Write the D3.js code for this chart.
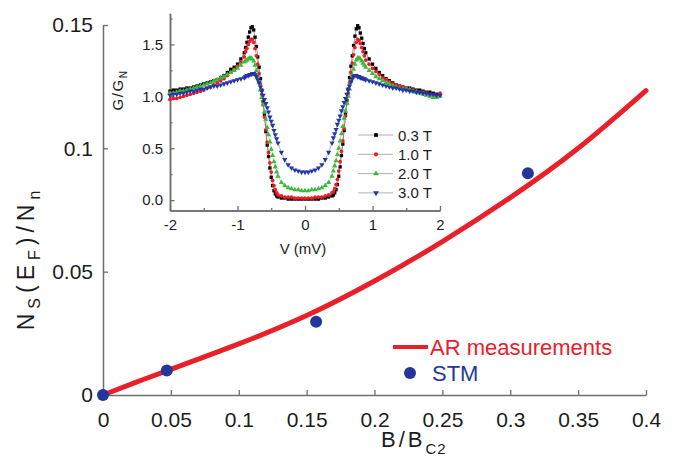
<!DOCTYPE html>
<html>
<head>
<meta charset="utf-8">
<script src="https://cdn.jsdelivr.net/npm/d3@7"></script>
<style>
	body { margin: 0; background: #fff; }
	svg text { font-family: "Liberation Sans", Arial, sans-serif; }
</style>
</head>
<body>
<svg id="chart" width="679" height="472"></svg>
<script>
// ---- main plot data ----
var fieldTicks = [0, 0.05, 0.1, 0.15, 0.2, 0.25, 0.3, 0.35, 0.4];
var fieldTickLabels = ["0", "0.05", "0.1", "0.15", "0.2", "0.25", "0.3", "0.35", "0.4"];
var dosTicks = [0, 0.05, 0.1, 0.15];
var dosTickLabels = ["0", "0.05", "0.1", "0.15"];

// AR measurements (red curve)
var arField = [0, 0.025, 0.05, 0.1, 0.15, 0.2, 0.25, 0.3, 0.35, 0.4];
var arDos = [0, 0.0053, 0.0104, 0.0207, 0.0322, 0.0462, 0.0622, 0.0800, 0.1000, 0.1234];

// STM points
var stmField = [0, 0.047, 0.157, 0.313];
var stmDos = [0, 0.0099, 0.0297, 0.0899];

// ---- inset data ----
var insetVTicks = [-2, -1, 0, 1, 2];
var insetVTickLabels = ["-2", "-1", "0", "1", "2"];
var insetVMinor = [-1.5, -0.5, 0.5, 1.5];
var insetGTicks = [0, 0.5, 1, 1.5];
var insetGTickLabels = ["0.0", "0.5", "1.0", "1.5"];
var insetGMinor = [0.25, 0.75, 1.25, 1.75];
var fieldNames = ["0.3 T", "1.0 T", "2.0 T", "3.0 T"];

var biasV = [
	-2, -1.95, -1.9, -1.85, -1.8, -1.75, -1.7, -1.65, -1.6, -1.55, -1.5, -1.45, -1.4, -1.35, -1.3, -1.25, -1.2, -1.15, -1.1, -1.05, -1, -0.95, -0.9,
	-0.88, -0.86, -0.84, -0.82, -0.8, -0.78, -0.76, -0.74, -0.72, -0.7, -0.68, -0.66, -0.64, -0.62, -0.6, -0.58, -0.56, -0.54, -0.52, -0.5, -0.48, -0.46, -0.44, -0.42,
	-0.4, -0.35, -0.3, -0.25, -0.2, -0.15, -0.1, -0.05, 0, 0.05, 0.1, 0.15, 0.2, 0.25, 0.3, 0.35, 0.4,
	0.42, 0.44, 0.46, 0.48, 0.5, 0.52, 0.54, 0.56, 0.58, 0.6, 0.62, 0.64, 0.66, 0.68, 0.7, 0.72, 0.74, 0.76, 0.78, 0.8, 0.82, 0.84, 0.86, 0.88,
	0.9, 0.95, 1, 1.05, 1.1, 1.15, 1.2, 1.25, 1.3, 1.35, 1.4, 1.45, 1.5, 1.55, 1.6, 1.65, 1.7, 1.75, 1.8, 1.85, 1.9, 1.95, 2
];

var g03 = [
	1.05, 1.06, 1.06, 1.07, 1.07, 1.08, 1.08, 1.09, 1.10, 1.11, 1.12, 1.13, 1.14, 1.15, 1.16, 1.18, 1.20, 1.23, 1.26, 1.28, 1.31, 1.36, 1.42,
	1.47, 1.52, 1.57, 1.62, 1.66, 1.67, 1.64, 1.57, 1.48, 1.38, 1.28, 1.17, 1.06, 0.95, 0.82, 0.66, 0.53, 0.42, 0.31, 0.22, 0.14, 0.09, 0.06, 0.04,
	0.03, 0.02, 0.02, 0.01, 0.01, 0.01, 0.01, 0.01, 0.01, 0.01, 0.01, 0.01, 0.01, 0.02, 0.02, 0.03, 0.04,
	0.05, 0.07, 0.10, 0.15, 0.23, 0.32, 0.43, 0.54, 0.67, 0.83, 0.96, 1.07, 1.18, 1.29, 1.39, 1.49, 1.58, 1.65, 1.68, 1.66, 1.61, 1.56, 1.51, 1.46,
	1.42, 1.36, 1.31, 1.27, 1.23, 1.20, 1.17, 1.15, 1.13, 1.11, 1.10, 1.09, 1.08, 1.08, 1.07, 1.06, 1.06, 1.05, 1.04, 1.04, 1.03, 1.02, 1.02
];

var g10 = [
	0.97, 0.98, 0.98, 0.99, 1.00, 1.01, 1.02, 1.03, 1.04, 1.05, 1.06, 1.08, 1.09, 1.11, 1.13, 1.15, 1.17, 1.20, 1.23, 1.26, 1.29, 1.33, 1.38,
	1.43, 1.46, 1.50, 1.53, 1.55, 1.55, 1.52, 1.46, 1.39, 1.31, 1.22, 1.12, 1.02, 0.92, 0.80, 0.68, 0.56, 0.46, 0.36, 0.27, 0.19, 0.14, 0.10, 0.07,
	0.05, 0.04, 0.03, 0.03, 0.03, 0.02, 0.02, 0.02, 0.02, 0.02, 0.02, 0.03, 0.03, 0.03, 0.04, 0.05, 0.07,
	0.08, 0.11, 0.15, 0.20, 0.28, 0.37, 0.47, 0.57, 0.69, 0.81, 0.93, 1.03, 1.13, 1.23, 1.32, 1.40, 1.47, 1.52, 1.55, 1.54, 1.51, 1.47, 1.43, 1.39,
	1.35, 1.31, 1.27, 1.24, 1.21, 1.18, 1.16, 1.14, 1.12, 1.11, 1.10, 1.09, 1.08, 1.07, 1.06, 1.05, 1.04, 1.04, 1.03, 1.02, 1.01, 1.01, 1.03
];

var g20 = [
	1.03, 1.03, 1.04, 1.05, 1.05, 1.06, 1.07, 1.08, 1.09, 1.10, 1.11, 1.12, 1.13, 1.15, 1.16, 1.18, 1.19, 1.21, 1.23, 1.25, 1.27, 1.30, 1.33,
	1.34, 1.35, 1.36, 1.37, 1.37, 1.36, 1.34, 1.30, 1.25, 1.19, 1.13, 1.06, 0.99, 0.92, 0.85, 0.78, 0.70, 0.63, 0.56, 0.49, 0.43, 0.37, 0.32, 0.27,
	0.23, 0.17, 0.14, 0.12, 0.11, 0.10, 0.10, 0.09, 0.09, 0.09, 0.10, 0.10, 0.11, 0.12, 0.14, 0.17, 0.23,
	0.28, 0.33, 0.38, 0.44, 0.50, 0.57, 0.64, 0.71, 0.79, 0.86, 0.93, 1.00, 1.07, 1.14, 1.20, 1.26, 1.31, 1.35, 1.37, 1.37, 1.36, 1.34, 1.32, 1.30,
	1.28, 1.25, 1.22, 1.19, 1.17, 1.15, 1.13, 1.12, 1.10, 1.09, 1.08, 1.07, 1.07, 1.06, 1.05, 1.04, 1.03, 1.02, 1.01, 1.00, 0.99, 0.99, 1.00
];

var g30 = [
	1.01, 1.02, 1.02, 1.03, 1.03, 1.04, 1.05, 1.05, 1.06, 1.07, 1.07, 1.08, 1.09, 1.10, 1.10, 1.11, 1.12, 1.13, 1.14, 1.15, 1.16, 1.17, 1.18,
	1.19, 1.20, 1.20, 1.21, 1.21, 1.22, 1.22, 1.21, 1.19, 1.16, 1.13, 1.09, 1.05, 1.01, 0.97, 0.93, 0.89, 0.85, 0.80, 0.76, 0.72, 0.67, 0.63, 0.59,
	0.55, 0.46, 0.39, 0.34, 0.31, 0.29, 0.28, 0.27, 0.27, 0.27, 0.28, 0.29, 0.31, 0.34, 0.39, 0.46, 0.55,
	0.60, 0.64, 0.68, 0.73, 0.77, 0.81, 0.86, 0.90, 0.94, 0.98, 1.02, 1.06, 1.10, 1.14, 1.17, 1.19, 1.20, 1.20, 1.19, 1.19, 1.18, 1.18, 1.17, 1.17,
	1.16, 1.15, 1.14, 1.13, 1.12, 1.11, 1.10, 1.09, 1.08, 1.08, 1.07, 1.06, 1.06, 1.05, 1.05, 1.04, 1.04, 1.03, 1.03, 1.02, 1.02, 1.01, 1.01
];

var svg = d3.select("#chart");
var axisColor = "#6e6e6e";
var textColor = "#1c1c1c";
var red = "#e8202a";
var navy = "#24369c";

function styleAxis(g, size) {
	g.attr("font-family", null).attr("font-size", null);
	g.select(".domain").attr("stroke", axisColor).attr("stroke-width", 1.5);
	g.selectAll(".tick line").attr("stroke", axisColor).attr("stroke-width", 1.3);
	g.selectAll(".tick text").attr("fill", textColor).style("font-size", size + "px");
}

// ---- main plot ----
var x = d3.scaleLinear().domain([0, 0.4]).range([103, 646]);
var y = d3.scaleLinear().domain([0, 0.15]).range([395, 25]);

svg.append("g")
	.attr("transform", "translate(0,395)")
	.call(d3.axisBottom(x)
		.tickValues(fieldTicks)
		.tickFormat(function(d, i) { return fieldTickLabels[i]; })
		.tickSize(-5).tickSizeOuter(0).tickPadding(17))
	.call(styleAxis, 21);

svg.append("g")
	.attr("transform", "translate(103,0)")
	.call(d3.axisLeft(y)
		.tickValues(dosTicks)
		.tickFormat(function(d, i) { return dosTickLabels[i]; })
		.tickSize(-5).tickSizeOuter(0).tickPadding(10))
	.call(styleAxis, 21);

// axis titles
var yTitle = svg.append("text")
	.attr("transform", "translate(34,258) rotate(-90)")
	.attr("text-anchor", "middle")
	.attr("fill", textColor)
	.style("font-size", "23px")
	.style("letter-spacing", "5px");
yTitle.append("tspan").text("N");
yTitle.append("tspan").attr("dy", 6).style("font-size", "16px").text("S");
yTitle.append("tspan").attr("dy", -6).text("(E");
yTitle.append("tspan").attr("dy", 6).style("font-size", "16px").text("F");
yTitle.append("tspan").attr("dy", -6).text(")/N");
yTitle.append("tspan").attr("dy", 6).style("font-size", "16px").text("n");

var xTitle = svg.append("text")
	.attr("x", 381).attr("y", 447)
	.attr("fill", textColor)
	.style("font-size", "22px")
	.style("letter-spacing", "3px");
xTitle.append("tspan").text("B/B");
xTitle.append("tspan").attr("dy", 7).style("font-size", "15px").style("letter-spacing", "1px").text("C2");

// AR curve
var arLine = d3.line()
	.x(function(d) { return x(d[0]); })
	.y(function(d) { return y(d[1]); })
	.curve(d3.curveNatural);

svg.append("path")
	.datum(d3.zip(arField, arDos))
	.attr("d", arLine)
	.attr("fill", "none")
	.attr("stroke", red)
	.attr("stroke-width", 5)
	.attr("stroke-linecap", "round");

// STM dots
svg.append("g")
	.selectAll("circle")
	.data(d3.zip(stmField, stmDos))
	.join("circle")
	.attr("cx", function(d) { return x(d[0]); })
	.attr("cy", function(d) { return y(d[1]); })
	.attr("r", 6)
	.attr("fill", navy);

// legend
var legend = svg.append("g");
legend.append("line")
	.attr("x1", 393).attr("x2", 428).attr("y1", 347).attr("y2", 347)
	.attr("stroke", red).attr("stroke-width", 4);
legend.append("text")
	.attr("x", 430).attr("y", 355)
	.attr("fill", red).style("font-size", "22px")
	.text("AR measurements");
legend.append("circle")
	.attr("cx", 410).attr("cy", 373).attr("r", 6)
	.attr("fill", navy);
legend.append("text")
	.attr("x", 432).attr("y", 381)
	.attr("fill", navy).style("font-size", "22px")
	.text("STM");

// ---- inset ----
var ix = d3.scaleLinear().domain([-2, 2]).range([170, 440]);
var iy = d3.scaleLinear().domain([-0.1, 1.8]).range([210.5, 13.3]);

var inset = svg.append("g");

inset.append("g")
	.attr("transform", "translate(0,210.5)")
	.call(d3.axisBottom(ix).tickValues(insetVMinor).tickSize(-2.5).tickSizeOuter(0).tickFormat(""))
	.call(styleAxis, 15);
inset.append("g")
	.attr("transform", "translate(0,210.5)")
	.call(d3.axisBottom(ix)
		.tickValues(insetVTicks)
		.tickFormat(function(d, i) { return insetVTickLabels[i]; })
		.tickSize(-4.5).tickSizeOuter(0).tickPadding(9))
	.call(styleAxis, 15);

inset.append("g")
	.attr("transform", "translate(170,0)")
	.call(d3.axisLeft(iy).tickValues(insetGMinor).tickSize(-2.5).tickSizeOuter(0).tickFormat(""))
	.call(styleAxis, 15);
inset.append("g")
	.attr("transform", "translate(170,0)")
	.call(d3.axisLeft(iy)
		.tickValues(insetGTicks)
		.tickFormat(function(d, i) { return insetGTickLabels[i]; })
		.tickSize(-4.5).tickSizeOuter(0).tickPadding(7))
	.call(styleAxis, 15);

inset.append("text")
	.attr("x", 303).attr("y", 254)
	.attr("text-anchor", "middle")
	.attr("fill", textColor)
	.style("font-size", "15px")
	.text("V (mV)");

var gTitle = inset.append("text")
	.attr("transform", "translate(123,90) rotate(-90)")
	.attr("text-anchor", "middle")
	.attr("fill", textColor)
	.style("font-size", "15px")
	.style("letter-spacing", "1.5px");
gTitle.append("tspan").text("G/G");
gTitle.append("tspan").attr("dy", 4).style("font-size", "10px").text("N");

var series = [
	{ name: fieldNames[0], values: g03, color: "#000000", symbol: d3.symbolSquare, size: 11, rot: 0 },
	{ name: fieldNames[1], values: g10, color: "#ee1c24", symbol: d3.symbolCircle, size: 11, rot: 0 },
	{ name: fieldNames[2], values: g20, color: "#3dba3d", symbol: d3.symbolTriangle, size: 12, rot: 0 },
	{ name: fieldNames[3], values: g30, color: "#2236a8", symbol: d3.symbolTriangle, size: 12, rot: 180 }
];

var thinLine = d3.line()
	.x(function(d) { return ix(d[0]); })
	.y(function(d) { return iy(d[1]); });

series.forEach(function(s) {
	var pts = d3.zip(biasV, s.values);
	inset.append("path")
		.datum(pts)
		.attr("d", thinLine)
		.attr("fill", "none")
		.attr("stroke", s.color)
		.attr("stroke-opacity", 0.5)
		.attr("stroke-width", 0.8);
	inset.append("g")
		.selectAll("path")
		.data(pts)
		.join("path")
		.attr("transform", function(d) {
			return "translate(" + ix(d[0]) + "," + iy(d[1]) + ") rotate(" + s.rot + ")";
		})
		.attr("d", d3.symbol(s.symbol, s.size))
		.attr("fill", s.color);
});

// inset legend
var iLegend = inset.append("g")
	.selectAll("g")
	.data(series)
	.join("g")
	.attr("transform", function(d, i) { return "translate(0," + (135 + i * 19.3) + ")"; });

iLegend.append("line")
	.attr("x1", 358).attr("x2", 393)
	.attr("stroke", "#b0b0b0").attr("stroke-width", 1);
iLegend.append("path")
	.attr("transform", function(d) { return "translate(376,0) rotate(" + d.rot + ")"; })
	.attr("d", function(d) { return d3.symbol(d.symbol, d.size + 3)(); })
	.attr("fill", function(d) { return d.color; });
iLegend.append("text")
	.attr("x", 398).attr("y", 5.5)
	.attr("fill", textColor)
	.style("font-size", "15px")
	.text(function(d) { return d.name; });
</script>
</body>
</html>
